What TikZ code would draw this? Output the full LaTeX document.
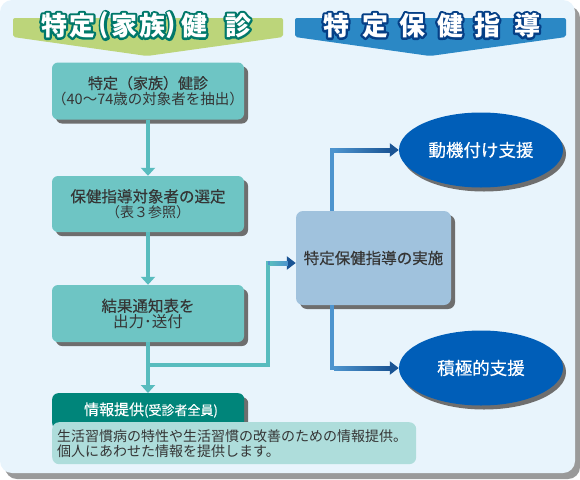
\documentclass[tikz,border=0pt]{standalone}
\usepackage{fontspec}
\setmainfont{Noto Sans CJK JP}
\newfontfamily\jpm[FakeBold=0.35]{Noto Sans CJK JP}
\usetikzlibrary{shadows,arrows.meta,shapes.geometric,calc}
\definecolor{panel}{HTML}{E8F4FC}
\definecolor{panelshadow}{HTML}{9A9A9A}
\definecolor{bannergreen}{HTML}{BCD57A}
\definecolor{bannerblue}{HTML}{2B88C5}
\definecolor{olgreen}{HTML}{00786A}
\definecolor{olblue}{HTML}{053F86}
\definecolor{boxteal}{HTML}{6EC5C4}
\definecolor{lineteal}{HTML}{58BCBE}
\definecolor{darkteal}{HTML}{00857A}
\definecolor{lightteal}{HTML}{AEDDDB}
\definecolor{boxsteel}{HTML}{A0C2DD}
\definecolor{ellblue}{HTML}{005EB8}
\definecolor{lineblue}{HTML}{4D94CE}
\definecolor{linedark}{HTML}{1A5494}
\definecolor{tipblue}{HTML}{1A5494}
\definecolor{txt}{HTML}{353535}
\definecolor{shad}{HTML}{6E6E6E}
\tikzset{
  x=1pt, y=-1pt,
  gshadow/.style={drop shadow={shadow xshift=4pt, shadow yshift=-4pt, fill=shad, opacity=1}},
  tealbox/.style={fill=boxteal, rounded corners=6pt, minimum width=192pt, gshadow, text=txt, align=center, inner sep=0pt},
  titlech/.style={font=\bfseries\fontsize{26}{26}\selectfont, inner sep=0pt},
  ell/.style={ellipse, fill=ellblue, minimum width=164pt, minimum height=75pt, text=white, font=\jpm\fontsize{17.5}{20}\selectfont, drop shadow={shadow xshift=3pt, shadow yshift=-4pt, fill=shad, opacity=1}},
  tealline/.style={draw=lineteal, line width=4pt},
  blueline/.style={draw=lineblue, line width=4pt},
  tealarrow/.style={tealline, -{Triangle[length=8pt, width=14pt, color=lineteal]}},
  bluearrow/.style={blueline, -{Triangle[length=9pt, width=13pt, color=tipblue]}},
}
% #4 = RGB stroke spec for the outline
\newcommand{\olch}[5]{%
  \node[titlech] at (#1,#2) {\special{pdf:literal direct 1 Tr 4.4 w 1 j #4 RG}#3\special{pdf:literal direct 0 Tr}};
  \node[titlech, text=white] (#5) at (#1,#2) {#3};}
\def\og{0 0.47 0.416}
\def\ob{0.02 0.247 0.525}
\begin{document}
\begin{tikzpicture}
\useasboundingbox (0,0) rectangle (580,479);
% panel
\fill[panelshadow, rounded corners=12pt] (5,6) rectangle (580,479);
\fill[panel, rounded corners=12pt] (0,0) rectangle (575,473);
% banners
\fill[bannergreen, rounded corners=2pt] (13,18) -- (283,18) -- (283,37) -- (147,56) -- (13,37) -- cycle;
\fill[bannerblue, rounded corners=2pt] (295,18) -- (566,18) -- (566,37) -- (430,56) -- (295,37) -- cycle;
% titles
\olch{54}{25.5}{特}{\og}{g1}
\olch{82}{25.5}{定}{\og}{g2}
\olch{104}{25.5}{(}{\og}{g3}
\olch{124}{25.5}{家}{\og}{g4}
\olch{152}{25.5}{族}{\og}{g5}
\olch{171}{25.5}{)}{\og}{g6}
\olch{194}{25.5}{健}{\og}{g7}
\olch{238}{25.5}{診}{\og}{g8}
\olch{336}{25.5}{特}{\ob}{b1}
\olch{375}{25.5}{定}{\ob}{b2}
\olch{412}{25.5}{保}{\ob}{b3}
\olch{450}{25.5}{健}{\ob}{b4}
\olch{487}{25.5}{指}{\ob}{b5}
\olch{527}{25.5}{導}{\ob}{b6}
% boxes
\node[tealbox, minimum height=57pt] (n1) at (148,91) {\jpm\fontsize{15}{21}\selectfont 特定（家族）健診\\[1pt]\fontsize{14.5}{21}\selectfont （40～74歳の対象者を抽出）};
\node[tealbox, minimum height=56pt] (n2) at (148,204) {\jpm\fontsize{15.5}{22}\selectfont 保健指導対象者の選定\\[1pt]\fontsize{14}{22}\selectfont （表３参照）};
\node[tealbox, minimum height=57pt] (n3) at (148,313.5) {\jpm\fontsize{15.5}{21}\selectfont 結果通知表を\\\fontsize{15.5}{21}\selectfont 出力･送付};
\node[fill=boxsteel, rounded corners=7pt, minimum width=155pt, minimum height=94pt, gshadow, text=txt, font=\jpm\fontsize{15.5}{18}\selectfont, inner sep=0pt] (n4) at (373.5,258) {特定保健指導の実施};
\node[ell] (e1) at (481,150) {動機付け支援};
\node[ell] (e2) at (481,368) {積極的支援};
% info boxes
\node[fill=darkteal, rounded corners=6pt, minimum width=192pt, minimum height=36pt, anchor=north west, gshadow, inner sep=0pt] (n5) at (52,393) {};
\node[text=white, inner sep=0pt] (n5t) at (151,410) {\jpm\fontsize{15}{18}\selectfont 情報提供\fontsize{13}{18}\selectfont (受診者全員)};
\node[fill=lightteal, rounded corners=7pt, minimum width=364pt, minimum height=42pt, anchor=north west, inner sep=0pt] (n6) at (52,422) {};
\node[anchor=west, align=left, text=txt, inner sep=0pt, font=\fontsize{14}{15}\selectfont] (n6t) at (57,444) {生活習慣病の特性や生活習慣の改善のための情報提供。\\個人にあわせた情報を提供します。};
% connectors
\coordinate (j) at (148,365);
\coordinate (k) at (268,365);
\coordinate (kt) at (268,263);
\coordinate (bx) at (332,0);
\draw[tealarrow] (n1.south) -- (n2.north);
\draw[tealarrow] (n2.south) -- (n3.north);
\draw[tealline] (n3.south) -- (j);
\draw[tealarrow] (j) -- (n5.north -| j);
\draw[tealline, line cap=rect] (j) -- (k) -- (kt);
\draw[bluearrow] (kt) -- (n4.west |- kt);
\shade[left color=lineteal, right color=lineblue] ($(kt)+(2,-2)$) rectangle ($(n4.west |- kt)+(-8,2)$);
\draw[bluearrow] (n4.north -| bx) -- (bx |- e1.west) -- (e1.west);
\shade[left color=lineblue, right color=linedark] ($(bx |- e1.west)+(2,-2)$) rectangle ($(e1.west)+(-8,2)$);
\draw[bluearrow] (n4.south -| bx) -- (bx |- e2.west) -- (e2.west);
\shade[left color=lineblue, right color=linedark] ($(bx |- e2.west)+(2,-2)$) rectangle ($(e2.west)+(-8,2)$);
\end{tikzpicture}
\end{document}
